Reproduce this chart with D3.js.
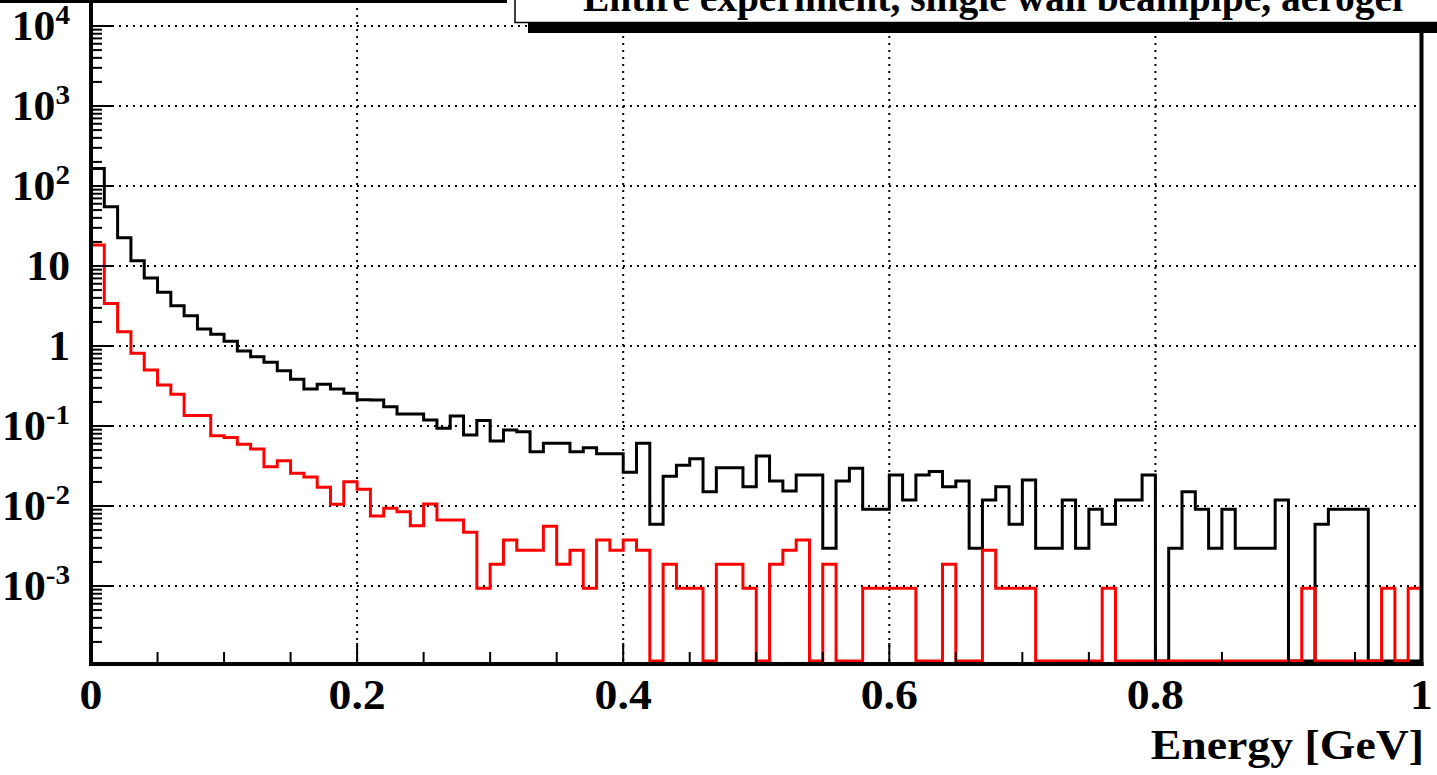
<!DOCTYPE html>
<html>
<head>
<meta charset="utf-8">
<script src="https://cdn.jsdelivr.net/npm/d3@7"></script>
<style>
  html, body { margin: 0; padding: 0; background: #ffffff; }
  svg { display: block; }
  text { font-family: "Liberation Serif", "Times New Roman", serif; font-weight: bold; fill: #000; }
</style>
</head>
<body>
<svg id="chart" width="1437" height="775"></svg>
<script>
// ---------------- data ----------------
const titleText = "Entire experiment, single wall beampipe, aerogel";
const xAxisTitle = "Energy [GeV]";
const xMin = 0, xMax = 1, nBins = 100;

// black histogram (all), one value per 0.01 GeV bin
const blackValues = [
  165, 55, 22.6, 11.6, 7.1, 4.7, 3.19, 2.39, 1.63, 1.40,
  1.15, 0.866, 0.736, 0.625, 0.492, 0.383, 0.29, 0.332, 0.29, 0.256,
  0.213, 0.211, 0.174, 0.141, 0.141, 0.119, 0.0935, 0.133, 0.077, 0.117,
  0.065, 0.089, 0.085, 0.0477, 0.0607, 0.0607, 0.0477, 0.0536, 0.045, 0.045,
  0.0264, 0.0607, 0.0059, 0.0236, 0.0322, 0.039, 0.0151, 0.0301, 0.0301, 0.0174,
  0.0422, 0.0205, 0.0154, 0.0244, 0.0244, 0.00296, 0.0205, 0.0296, 0.00908, 0.00908,
  0.0244, 0.0119, 0.0244, 0.0269, 0.0174, 0.0205, 0.00296, 0.0119, 0.0174, 0.0059,
  0.0211, 0.00296, 0.00296, 0.0119, 0.00296, 0.00908, 0.0059, 0.0119, 0.0119, 0.0244,
  0, 0.00296, 0.0151, 0.00908, 0.00296, 0.00908, 0.00296, 0.00296, 0.00296, 0.0119,
  0, 0, 0.0059, 0.00908, 0.00908, 0.00908, 0, 0, 0, 0
];

// red histogram
const redValues = [
  18.3, 3.41, 1.51, 0.81, 0.50, 0.325, 0.249, 0.135, 0.135, 0.0757,
  0.072, 0.059, 0.0516, 0.031, 0.0369, 0.0257, 0.023, 0.0171, 0.0105, 0.0201,
  0.0162, 0.0075, 0.00935, 0.0085, 0.00567, 0.0106, 0.00668, 0.00668, 0.00469, 0.00094,
  0.00187, 0.00375, 0.0028, 0.0028, 0.0056, 0.00187, 0.0028, 0.00094, 0.00375, 0.0028,
  0.00375, 0.0028, 0, 0.00187, 0.00094, 0.00094, 0, 0.00187, 0.00187, 0.00094,
  0, 0.00187, 0.0028, 0.00375, 0, 0.00187, 0, 0, 0.00094, 0.00094,
  0.00094, 0.00094, 0, 0, 0.00187, 0, 0, 0.0028, 0.00094, 0.00094,
  0.00094, 0, 0, 0, 0, 0, 0.00094, 0, 0, 0,
  0, 0, 0, 0, 0, 0, 0, 0, 0, 0,
  0, 0.00094, 0, 0, 0, 0, 0, 0.00094, 0, 0.00094
];

const xTickValues = [0, 0.2, 0.4, 0.6, 0.8, 1];
const xTickLabels = ["0", "0.2", "0.4", "0.6", "0.8", "1"];
const xGridValues = [0.2, 0.4, 0.6, 0.8];
const xMinorStep = 0.05;

const yTickValues = [1e-3, 1e-2, 1e-1, 1, 10, 1e2, 1e3, 1e4];
const yTickLabels = ["10^-3", "10^-2", "10^-1", "1", "10", "10^2", "10^3", "10^4"];

// ---------------- layout ----------------
const svg = d3.select("#chart");
const frame = { left: 91, right: 1421.5, top: -2, bottom: 661 };
const yDomain = [Math.pow(10, -3.9375), Math.pow(10, 4.35)];

const x = d3.scaleLinear().domain([xMin, xMax]).range([frame.left, frame.right]);
const y = d3.scaleLog().domain(yDomain).range([frame.bottom, frame.top]);
const yc = v => y(Math.max(v, yDomain[0]));

const binW = (xMax - xMin) / nBins;

// ---------------- grid ----------------
const grid = svg.append("g");
grid.selectAll("line.gx").data(xGridValues).enter().append("line")
  .attr("x1", d => x(d)).attr("x2", d => x(d))
  .attr("y1", frame.bottom).attr("y2", 0)
  .attr("stroke", "#000").attr("stroke-width", 2).attr("stroke-dasharray", "2,5");
grid.selectAll("line.gy").data(yTickValues).enter().append("line")
  .attr("x1", frame.left).attr("x2", frame.right)
  .attr("y1", d => y(d)).attr("y2", d => y(d))
  .attr("stroke", "#000").attr("stroke-width", 2).attr("stroke-dasharray", "2,5");

// ---------------- histograms ----------------
function histPoints(vals) {
  const pts = [[xMin, yDomain[0]]];
  vals.forEach((v, i) => pts.push([xMin + i * binW, v]));
  pts.push([xMax, vals[vals.length - 1]]);
  pts.push([xMax, yDomain[0]]);
  return pts;
}
const stepLine = d3.line().x(d => x(d[0])).y(d => yc(d[1])).curve(d3.curveStepAfter);

svg.append("path").attr("d", stepLine(histPoints(blackValues)))
  .attr("fill", "none").attr("stroke", "#000").attr("stroke-width", 3).attr("stroke-linejoin", "miter");
svg.append("path").attr("d", stepLine(histPoints(redValues)))
  .attr("fill", "none").attr("stroke", "#ff0000").attr("stroke-width", 3).attr("stroke-linejoin", "miter");

// ---------------- axes / frame ----------------
const axes = svg.append("g");
// x ticks (minor every 0.05, major at labelled values)
const xMinor = d3.range(0, nBins / 5 + 1).map(i => xMin + i * xMinorStep).filter(v => v > xMin && v < xMax);
axes.selectAll("line.xm").data(xMinor).enter().append("line")
  .attr("x1", d => x(d)).attr("x2", d => x(d))
  .attr("y1", frame.bottom + 2).attr("y2", d => frame.bottom - (xTickValues.some(t => Math.abs(t - d) < 1e-9) ? 18 : 9))
  .attr("stroke", "#000").attr("stroke-width", 2);
// y ticks
const yTicksAll = y.ticks(100).filter(v => v >= yDomain[0] && v <= yDomain[1]);
axes.selectAll("line.ym").data(yTicksAll).enter().append("line")
  .attr("x1", frame.left).attr("y1", d => y(d)).attr("y2", d => y(d))
  .attr("x2", d => {
    const l = Math.log10(d);
    return frame.left + (Math.abs(l - Math.round(l)) < 1e-9 ? 22 : 11);
  })
  .attr("stroke", "#000").attr("stroke-width", 2);

// frame lines
axes.append("line").attr("x1", frame.left).attr("x2", frame.left).attr("y1", 0).attr("y2", frame.bottom + 5)
  .attr("stroke", "#000").attr("stroke-width", 4);
axes.append("line").attr("x1", frame.right).attr("x2", frame.right).attr("y1", 0).attr("y2", frame.bottom + 5)
  .attr("stroke", "#000").attr("stroke-width", 4);
axes.append("line").attr("x1", frame.left - 2).attr("x2", frame.right + 2).attr("y1", frame.bottom + 3).attr("y2", frame.bottom + 3)
  .attr("stroke", "#000").attr("stroke-width", 4);

// x tick labels
const labelSize = 42, stretch = 1.09;
axes.selectAll("text.xl").data(xTickValues).enter().append("text")
  .attr("transform", d => `translate(${x(d)},709) scale(${stretch},1)`)
  .attr("text-anchor", "middle").attr("font-size", labelSize)
  .text((d, i) => xTickLabels[i]);

// y tick labels
yTickValues.forEach((v, i) => {
  const lab = yTickLabels[i];
  const t = axes.append("text")
    .attr("transform", `translate(70,${y(v) + 14}) scale(1.04,1)`)
    .attr("text-anchor", "end").attr("font-size", labelSize);
  if (lab.includes("^")) {
    const [base, exp] = lab.split("^");
    t.append("tspan").text(base);
    t.append("tspan").attr("font-size", 28).attr("dy", -16).text(exp);
  } else {
    t.text(lab);
  }
});

// x axis title
svg.append("text")
  .attr("transform", `translate(1424,759) scale(${stretch},1)`)
  .attr("text-anchor", "end").attr("font-size", labelSize)
  .text(xAxisTitle);

// ---------------- title box ----------------
svg.append("rect").attr("x", 0).attr("y", 0).attr("width", 507).attr("height", 3).attr("fill", "#000");
svg.append("rect").attr("x", 528).attr("y", 22).attr("width", 920).attr("height", 11).attr("fill", "#000");
svg.append("rect").attr("x", 515).attr("y", -10).attr("width", 940).attr("height", 32.5)
  .attr("fill", "#fff").attr("stroke", "#000").attr("stroke-width", 1.5);
svg.append("text").attr("x", 583).attr("y", 11).attr("font-size", 40)
  .attr("textLength", 820).attr("lengthAdjust", "spacingAndGlyphs")
  .text(titleText);
</script>
</body>
</html>
